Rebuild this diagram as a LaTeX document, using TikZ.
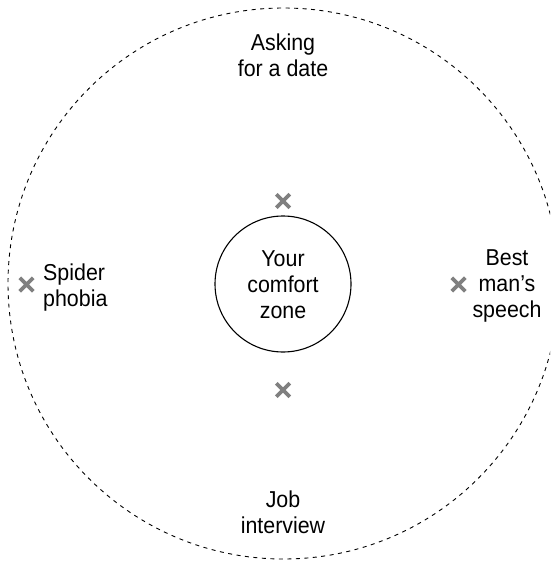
\documentclass[tikz,border=0pt]{standalone}
\usepackage{fontspec}
\setmainfont[FakeStretch=0.93]{Liberation Sans}
\usetikzlibrary{shapes.misc}
\definecolor{xgray}{HTML}{808080}
\begin{document}
\begin{tikzpicture}[x=1pt,y=-1pt,
  lbl/.style={font=\fontsize{23}{26}\selectfont, inner sep=0pt, align=center},
  xmark/.style={cross out, draw=xgray, line width=3.6pt, minimum size=13.5pt, inner sep=0pt, outer sep=0pt},
  outer/.style={draw=black, line width=0.9pt, dash pattern=on 4pt off 4.5pt},
  zone/.style={circle, draw=black, line width=1.1pt, minimum size=136pt, inner sep=0pt}]
\useasboundingbox (0,0) rectangle (550,561);
\clip (0,0) rectangle (550,561);
\fill[white] (0,0) rectangle (550,561);
\draw[outer] (283.5,283.5) circle[radius=275.5];
\node[zone] (zone) at (283,284) {};
\node[lbl, anchor=base] (zonetxt) at (283,318) {Your\\comfort\\zone};
\node[lbl, anchor=base] (date) at (283,76.7) {Asking\\for a date};
\node[lbl, anchor=base] (job) at (283,533) {Job\\interview};
\node[lbl, anchor=base west, align=left] (spider) at (43,306) {Spider\\phobia};
\node[lbl, anchor=base] (best) at (507,317) {Best\\man’s\\speech};
\node[xmark] (xtop) at (283,201) {};
\node[xmark] (xbot) at (283,390) {};
\node[xmark] (xleft) at (26.5,284.5) {};
\node[xmark] (xright) at (458.5,284.5) {};
\end{tikzpicture}
\end{document}
